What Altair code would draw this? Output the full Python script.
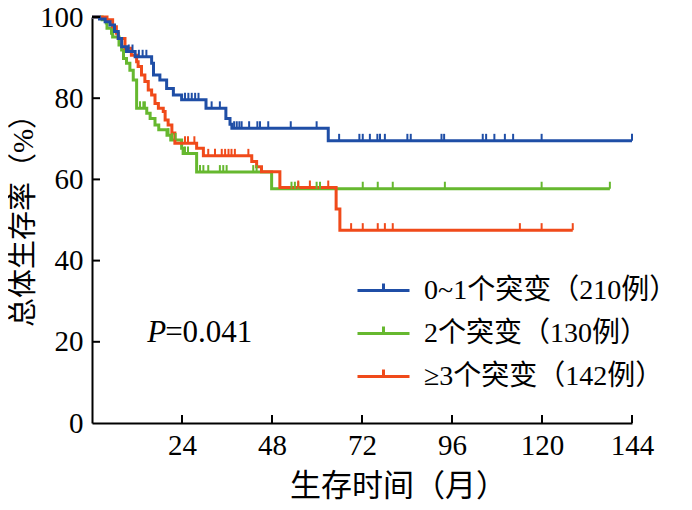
import altair as alt
import pandas as pd
import numpy as np

groups = ["0~1个突变（210例）", "2个突变（130例）", "≥3个突变（142例）"]
colors = ["#1f4ea6", "#66b82f", "#f04a1a"]

# group 0~1 mutations
blue_t = [0, 2.0, 3.5, 4.8, 6.0, 7.0, 7.9, 9.2, 11.5, 15.9, 16.4, 18.1, 19.9, 21.7,
          23.9, 30.4, 35.7, 36.8, 37.3, 63.0, 144]
blue_s = [100, 99.5, 98.8, 98.0, 96.4, 94.7, 92.7, 91.5, 90.2, 88.6, 85.7, 84.5, 82.4, 80.8,
          79.6, 77.5, 75.0, 73.6, 72.6, 69.5, 69.5]
blue_c = [9.8, 10.8, 12.5, 13.5, 14.5, 24.8, 25.7, 26.6, 27.5, 28.4, 31.9, 34.1,
          37.9, 38.6, 39.3, 39.9, 41.9, 44.1, 44.8, 47.0, 53.0, 59.9,
          65.9, 71.3, 72.2, 74.1, 76.1, 76.8, 78.1, 84.1, 85.0, 93.2, 93.9, 104.2,
          105.1, 107.3, 110.1, 112.3, 119.9, 144]

# group 2 mutations
green_t = [0, 2.7, 3.8, 4.0, 5.2, 5.5, 7.2, 7.9, 8.4, 9.2, 10.1, 11.0, 11.9, 14.6, 15.5,
           16.8, 17.8, 20.0, 21.0, 23.9, 24.3, 27.9, 47.9, 138.1]
green_s = [100, 99.3, 98.5, 97.2, 96.0, 95.1, 93.1, 91.9, 89.8, 88.6, 86.9, 84.5, 77.5, 76.3, 75.0,
           73.4, 72.2, 70.9, 69.7, 67.7, 66.4, 61.8, 57.7, 57.7]
green_c = [12.8, 13.7, 14.1, 20.4, 21.4, 22.3, 24.8, 25.6, 28.8, 29.7, 31.0, 34.1, 35.0, 35.9,
           43.0, 43.9, 53.2, 54.1, 55.0, 59.9, 60.8, 72.2, 76.2, 80.2, 94.1, 119.9, 138.1]

# group >=3 mutations
orange_t = [0, 4.0, 5.5, 6.5, 7.0, 8.8, 10.5, 11.9, 12.3, 13.2, 14.1, 15.0, 15.9, 16.8, 17.7,
            19.0, 19.5, 20.3, 21.3, 22.1, 27.9, 29.7, 42.6, 43.9, 45.2, 50.1, 65.1, 66.1, 128.2]
orange_s = [100, 99.3, 97.6, 96.0, 94.7, 92.3, 90.6, 89.0, 87.8, 85.7, 84.1, 82.0, 80.8, 78.7, 77.5,
            76.7, 74.6, 73.4, 71.4, 68.9, 67.7, 65.8, 64.4, 63.1, 61.9, 58.0, 52.7, 47.5, 47.5]
orange_c = [24.8, 25.6, 27.3, 31.0, 32.8, 34.6, 35.5, 36.4, 37.2, 38.1, 41.7, 55.0, 58.1, 63.0,
            69.1, 72.2, 76.2, 78.1, 80.2, 114.1, 119.9, 128.2]

x_ticks = [24, 48, 72, 96, 120, 144]
y_ticks = [0, 20, 40, 60, 80, 100]

FONT = "Liberation Serif, Noto Sans CJK SC"

series = [(groups[1], green_t, green_s, green_c),
          (groups[2], orange_t, orange_s, orange_c),
          (groups[0], blue_t, blue_s, blue_c)]

line_rows, cens_rows = [], []
for order, (g, ts, ss, cs) in enumerate(series):
    for t, s in zip(ts, ss):
        line_rows.append({"group": g, "t": t, "s": s, "o": order})
    ta = np.array(ts)
    sa = np.array(ss)
    for c in cs:
        idx = np.searchsorted(ta, c, side="right") - 1
        cens_rows.append({"group": g, "t": c, "s": float(sa[idx]), "o": order})

lines = pd.DataFrame(line_rows)
cens = pd.DataFrame(cens_rows)

xsc = alt.Scale(domain=[0, 144], nice=False, zero=True)
ysc = alt.Scale(domain=[0, 100], nice=False)

xax = alt.Axis(values=x_ticks, title="生存时间（月）", ticks=False, grid=False,
               domainColor="black", domainWidth=2, labelFont=FONT, labelFontSize=29,
               labelColor="black", labelPadding=8, labelFlush=False,
               titleFont=FONT, titleFontSize=31,
               titleFontWeight="normal", titleColor="black", titleX=306, titleY=63,
               titleBaseline="middle", titleAlign="center")
yax = alt.Axis(values=y_ticks, title="总体生存率（%）", ticks=False, grid=False,
               domainColor="black", domainWidth=2, labelFont=FONT, labelFontSize=29,
               labelColor="black", labelPadding=9, titleFont=FONT, titleFontSize=29,
               titleFontWeight="normal", titleColor="black", titleX=-69, titleY=196,
               titleAngle=270, titleBaseline="middle", titleAlign="center")

color = alt.Color("group:N", scale=alt.Scale(domain=groups, range=colors),
                  legend=alt.Legend(orient="none", legendX=264, legendY=246, title=None,
                                    symbolType="M-1,0L1,0M0,0L0,-0.27", symbolSize=2704,
                                    symbolStrokeWidth=3, labelFont=FONT, labelFontSize=28,
                                    labelColor="black", labelOffset=13, rowPadding=1,
                                    padding=0, labelLimit=400))

line = alt.Chart(lines).mark_line(interpolate="step-after", strokeWidth=3).encode(
    x=alt.X("t:Q", scale=xsc, axis=xax),
    y=alt.Y("s:Q", scale=ysc, axis=yax),
    color=color,
    detail="o:N",
)

points = alt.Chart(cens).mark_point(shape="M0,0L0,-1", size=196, filled=False,
                                     strokeWidth=2, opacity=1).encode(
    x=alt.X("t:Q", scale=xsc),
    y=alt.Y("s:Q", scale=ysc),
    color=alt.Color("group:N", scale=alt.Scale(domain=groups, range=colors), legend=None),
)

ytick_df = pd.DataFrame({"v": y_ticks[1:]})
xtick_df = pd.DataFrame({"v": x_ticks})
ytk = alt.Chart(ytick_df).mark_rule(color="black", strokeWidth=2).encode(
    y=alt.Y("v:Q", scale=ysc), x=alt.value(0), x2=alt.value(8))
xtk = alt.Chart(xtick_df).mark_rule(color="black", strokeWidth=2).encode(
    x=alt.X("v:Q", scale=xsc), y=alt.value(406), y2=alt.value(398))

ann = pd.DataFrame({"t": [14.7], "s": [22.2], "p": ["P"], "v": ["=0.041"]})
ptxt = alt.Chart(ann).mark_text(align="left", baseline="middle", font=FONT, fontSize=31,
                                fontStyle="italic", color="black").encode(
    x=alt.X("t:Q", scale=xsc), y=alt.Y("s:Q", scale=ysc), text="p:N")
vtxt = alt.Chart(ann).mark_text(align="left", baseline="middle", font=FONT, fontSize=31,
                                dx=18, color="black").encode(
    x=alt.X("t:Q", scale=xsc), y=alt.Y("s:Q", scale=ysc), text="v:N")

chart = alt.layer(line, points, ytk, xtk, ptxt, vtxt).properties(
    width=540, height=406,
    autosize=alt.AutoSizeParams(type="none"),
    padding={"left": 84, "top": 9, "right": 52, "bottom": 79},
    background="white",
).configure_view(stroke=None)

chart.save("out.html", embed_options={"renderer": "svg", "actions": False})
